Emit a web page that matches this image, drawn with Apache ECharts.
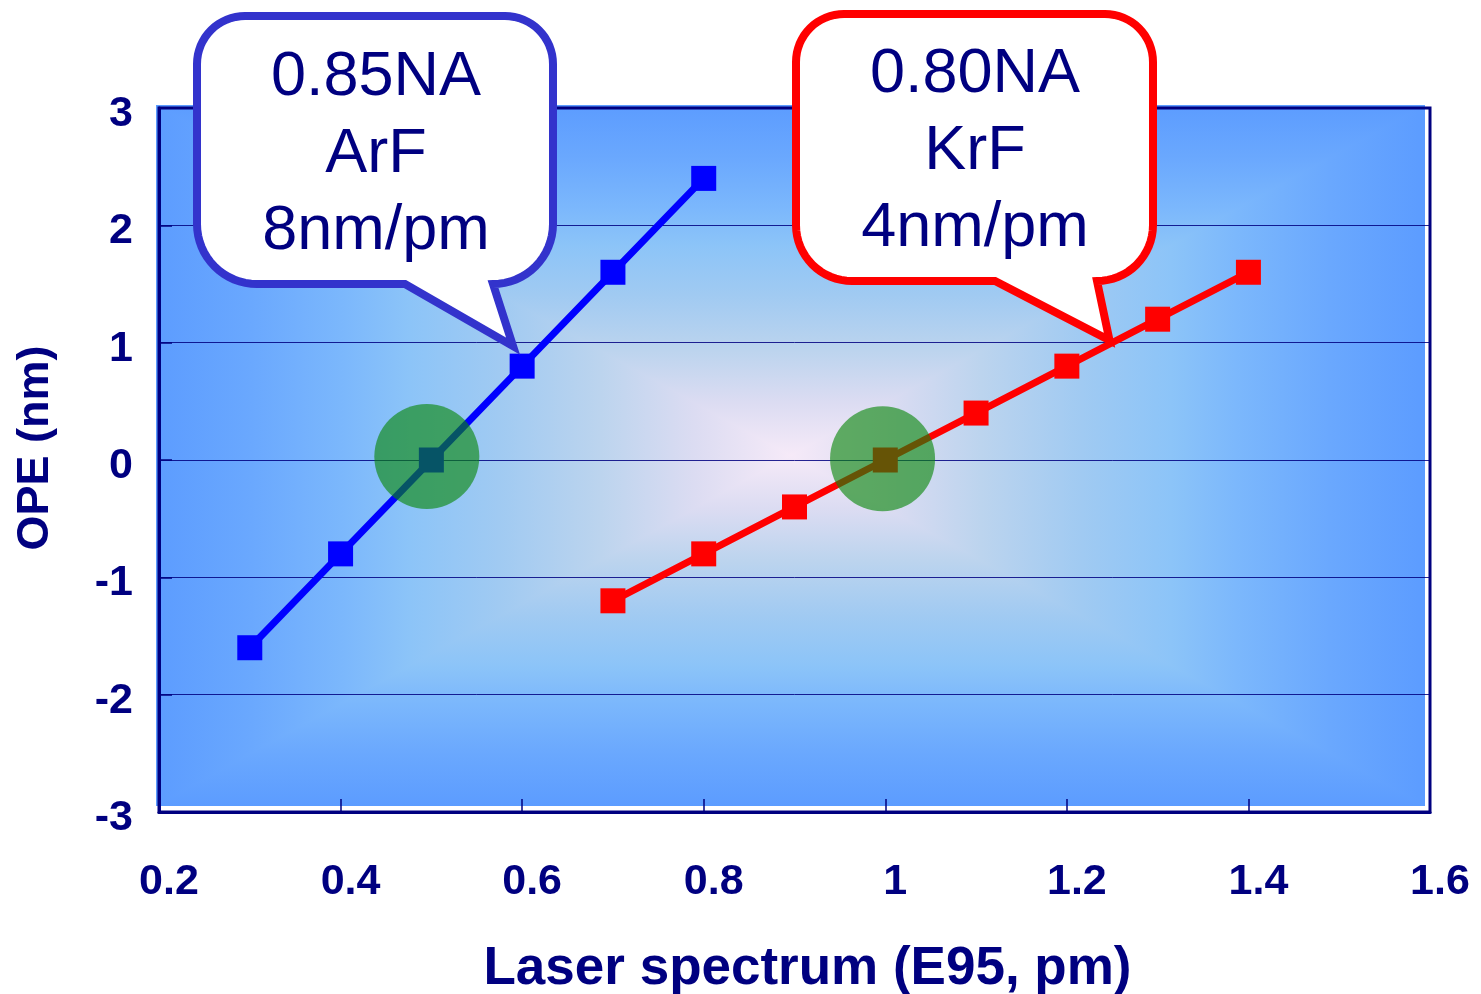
<!DOCTYPE html>
<html>
<head>
<meta charset="utf-8">
<script src="https://cdn.jsdelivr.net/npm/echarts@6/dist/echarts.min.js"></script>
<style>
html,body{margin:0;padding:0;background:#fff;}
#main{width:1481px;height:994px;}
</style>
</head>
<body>
<div id="main"></div>
<script>
// ---- data ----
const arfX = [0.3, 0.4, 0.5, 0.6, 0.7, 0.8];
const arfY = [-1.6, -0.8, 0, 0.8, 1.6, 2.4];
const krfX = [0.7, 0.8, 0.9, 1.0, 1.1, 1.2, 1.3, 1.4];
const krfY = [-1.2, -0.8, -0.4, 0, 0.4, 0.8, 1.2, 1.6];
const highlightX = [0.495, 0.997];
const highlightY = [0.03, 0.01];
const xRange = [0.2, 1.6, 0.2];
const yRange = [-3, 3, 1];
const calloutArF = ['0.85NA', 'ArF', '8nm/pm'];
const calloutKrF = ['0.80NA', 'KrF', '4nm/pm'];
const calloutTips = [[0.59, 0.97], [1.247, 1.02]];
const xTitle = 'Laser spectrum (E95, pm)';
const yTitle = 'OPE (nm)';

const NAVY = '#000080';
const FONT = "'Liberation Sans', Arial, sans-serif";

const chart = echarts.init(document.getElementById('main'), null, {renderer: 'canvas'});

function zip(xs, ys) { return xs.map((x, i) => [x, ys[i]]); }

chart.setOption({
  animation: false,
  backgroundColor: '#ffffff',
  grid: {
    left: 159, top: 108, right: 51, bottom: 182,
    outerBoundsMode: 'none', containLabel: false,
    show: true, borderColor: NAVY, borderWidth: 3, backgroundColor: 'transparent'
  },
  xAxis: {
    type: 'value', min: xRange[0], max: xRange[1], interval: xRange[2],
    axisLine: {show: true, onZero: false, lineStyle: {color: NAVY, width: 3}},
    axisTick: {show: true, inside: true, length: 13, lineStyle: {color: NAVY, width: 1.5}},
    axisLabel: {fontSize: 43, fontWeight: 'bold', color: NAVY, fontFamily: FONT, margin: 49, padding: [0, 0, 0, 20]},
    splitLine: {show: false},
    name: xTitle, nameLocation: 'middle', nameGap: 131,
    nameTextStyle: {fontSize: 53, fontWeight: 'bold', color: NAVY, fontFamily: FONT, padding: [0, 0, 0, 26]}
  },
  yAxis: {
    type: 'value', min: yRange[0], max: yRange[1], interval: yRange[2],
    axisLine: {show: true, onZero: false, lineStyle: {color: NAVY, width: 3}},
    axisTick: {show: true, inside: true, length: 13, lineStyle: {color: NAVY, width: 1.5}},
    axisLabel: {fontSize: 43, fontWeight: 'bold', color: NAVY, fontFamily: FONT, margin: 26,
      verticalAlign: 'top', lineHeight: 12},
    splitLine: {show: true, lineStyle: {color: 'rgba(0,0,128,0.85)', width: 1}},
    name: yTitle, nameLocation: 'middle', nameGap: 101,
    nameTextStyle: {fontSize: 45, fontWeight: 'bold', color: NAVY, fontFamily: FONT, padding: [0, 0, 0, 24]}
  },
  series: [
    {
      type: 'line', data: zip(arfX, arfY), symbol: 'rect', symbolSize: 25, showAllSymbol: true,
      lineStyle: {color: '#0000ff', width: 7}, itemStyle: {color: '#0000ff'}, z: 3, silent: true
    },
    {
      type: 'line', data: zip(krfX, krfY), symbol: 'rect', symbolSize: 25, showAllSymbol: true,
      lineStyle: {color: '#ff0000', width: 7}, itemStyle: {color: '#ff0000'}, z: 3, silent: true
    },
    {
      type: 'scatter', data: zip(highlightX, highlightY), symbol: 'circle', symbolSize: 105,
      itemStyle: {
        color: 'rgba(10,135,10,0.78)',
        decal: {symbol: 'rect', symbolSize: 1, dashArrayX: [1, 2], dashArrayY: [1, 2], color: 'rgba(0,70,0,0.35)'}
      },
      z: 5, silent: true
    }
  ]
});

// ---- background (rectangular "from centre" gradient) and callouts ----
const tl = chart.convertToPixel({gridIndex: 0}, [xRange[0], yRange[1]]);
const br = chart.convertToPixel({gridIndex: 0}, [xRange[1], yRange[0]]);
const bx = tl[0] - 3, by = tl[1] - 3, bw = (br[0] - tl[0]) - 2, bh = (br[1] - tl[1]) - 3;
const cx = bx + bw / 2, cy = by + bh / 2;

// stops from edge (0) to centre (1)
const stopsEdgeToCentre = [
  [0.00, '#5c9cff'], [0.15, '#6aa8fe'], [0.30, '#7cb8fc'], [0.40, '#8cc4f8'],
  [0.54, '#a0caf2'], [0.70, '#bcd4ee'], [0.85, '#dcdcf2'], [1.00, '#f6eaf8']
];
function mirrored() {
  const s = [];
  stopsEdgeToCentre.forEach(([o, c]) => s.push({offset: o / 2, color: c}));
  stopsEdgeToCentre.slice().reverse().forEach(([o, c]) => s.push({offset: 1 - o / 2, color: c}));
  return s;
}
function edgeToCentre() {
  return stopsEdgeToCentre.map(([o, c]) => ({offset: o, color: c}));
}

function arc(pts, ccx, ccy, r, a0, a1) {
  const n = 16;
  for (let i = 0; i <= n; i++) {
    const a = (a0 + (a1 - a0) * i / n) * Math.PI / 180;
    pts.push([ccx + r * Math.cos(a), ccy + r * Math.sin(a)]);
  }
}
function calloutPoints(x0, y0, x1, y1, rt, rb, b0, b1, tx, ty) {
  const p = [];
  arc(p, x1 - rt, y0 + rt, rt, -90, 0);
  arc(p, x1 - rb, y1 - rb, rb, 0, 90);
  p.push([b1, y1]);
  p.push([tx, ty]);
  p.push([b0, y1]);
  arc(p, x0 + rb, y1 - rb, rb, 90, 180);
  arc(p, x0 + rt, y0 + rt, rt, 180, 270);
  return p;
}

const tipA = chart.convertToPixel({gridIndex: 0}, calloutTips[0]);
const tipK = chart.convertToPixel({gridIndex: 0}, calloutTips[1]);

function calloutTexts(lines, x, y0, step) {
  return lines.map((t, i) => ({
    type: 'text', z: 101, silent: true,
    style: {
      text: t, x: x, y: y0 + i * step, align: 'center', verticalAlign: 'middle',
      fill: NAVY, font: `400 63px ${FONT}`
    }
  }));
}

chart.setOption({
  graphic: [
    {
      type: 'rect', z: -10, silent: true,
      shape: {x: bx, y: by, width: bw, height: bh},
      style: {fill: {type: 'linear', x: 0, y: 0, x2: 1, y2: 0, colorStops: mirrored()}}
    },
    {
      type: 'polygon', z: -9, silent: true,
      shape: {points: [[bx, by], [bx + bw, by], [cx, cy]]},
      style: {fill: {type: 'linear', global: true, x: 0, y: by, x2: 0, y2: cy, colorStops: edgeToCentre()}}
    },
    {
      type: 'polygon', z: -9, silent: true,
      shape: {points: [[bx, by + bh], [bx + bw, by + bh], [cx, cy]]},
      style: {fill: {type: 'linear', global: true, x: 0, y: by + bh, x2: 0, y2: cy, colorStops: edgeToCentre()}}
    },
    {
      type: 'polygon', z: 100, silent: true,
      shape: {points: calloutPoints(197, 16, 553, 284, 48, 60, 405, 493, tipA[0], tipA[1])},
      style: {fill: '#ffffff', stroke: '#3333cc', lineWidth: 8, lineJoin: 'miter', miterLimit: 10}
    },
    {
      type: 'polygon', z: 100, silent: true,
      shape: {points: calloutPoints(796, 14, 1153, 281, 48, 56, 995, 1097, tipK[0], tipK[1])},
      style: {fill: '#ffffff', stroke: '#ff0000', lineWidth: 8, lineJoin: 'miter', miterLimit: 10}
    }
  ].concat(calloutTexts(calloutArF, 376, 78, 77), calloutTexts(calloutKrF, 975, 75, 77))
});
</script>
</body>
</html>
